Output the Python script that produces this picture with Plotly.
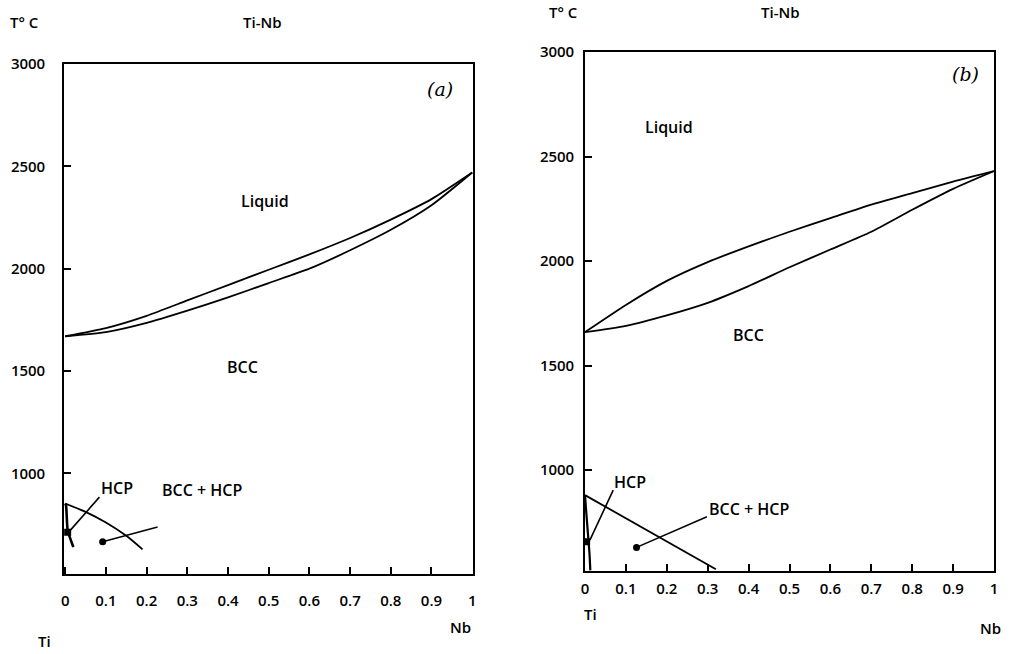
import plotly.graph_objects as go

W, H = 1013, 654

# ---- data: panel (a)
comp = [0, 0.1, 0.2, 0.3, 0.4, 0.5, 0.6, 0.7, 0.8, 0.9, 1.0]
a_liquidus = [1670, 1710, 1770, 1845, 1920, 1995, 2070, 2150, 2240, 2340, 2470]
a_solidus = [1670, 1690, 1735, 1795, 1860, 1930, 2000, 2090, 2190, 2310, 2470]
a_bcc_x = [0, 0.05, 0.1, 0.15, 0.19]
a_bcc_t = [853, 812, 760, 695, 629]
a_hcp_x = [0, 0.002, 0.006, 0.014, 0.02]
a_hcp_t = [853, 844, 722, 673, 640]
a_dot_x = [0.006, 0.092]
a_dot_t = [712, 666]
a_lead_x = [[0.008, 0.084], [0.092, 0.227]]
a_lead_t = [[712, 884], [666, 738]]

# ---- data: panel (b)
b_liquidus = [1660, 1790, 1905, 1995, 2070, 2140, 2205, 2270, 2325, 2380, 2430]
b_solidus = [1660, 1690, 1740, 1800, 1880, 1970, 2055, 2140, 2245, 2345, 2430]
b_bcc_x = [0, 0.32]
b_bcc_t = [880, 525]
b_hcp_x = [0, 0.003, 0.007, 0.011, 0.013]
b_hcp_t = [880, 800, 700, 600, 520]
b_dot_x = [0.004, 0.126]
b_dot_t = [657, 630]
b_lead_x = [[0.012, 0.069], [0.126, 0.298]]
b_lead_t = [[665, 904], [630, 777]]

x_ticks = [0, 0.1, 0.2, 0.3, 0.4, 0.5, 0.6, 0.7, 0.8, 0.9, 1]
x_ticktext = ["0", "0.1", "0.2", "0.3", "0.4", "0.5", "0.6", "0.7", "0.8", "0.9", "1"]
y_ticks = [1000, 1500, 2000, 2500, 3000]

FONT = "Open Sans"
LW = 1.8

fig = go.Figure()

def line(x, y, xa, ya, w=LW):
    fig.add_trace(go.Scatter(x=x, y=y, mode="lines", xaxis=xa, yaxis=ya,
                             line=dict(color="black", width=w, shape="spline", smoothing=0.6),
                             hoverinfo="skip", showlegend=False))

# panel a
line(comp, a_liquidus, "x", "y")
line(comp, a_solidus, "x", "y")
line(a_bcc_x, a_bcc_t, "x", "y")
line(a_hcp_x, a_hcp_t, "x", "y", 2.6)
for lx, lt in zip(a_lead_x, a_lead_t):
    fig.add_trace(go.Scatter(x=lx, y=lt, mode="lines", xaxis="x", yaxis="y",
                             line=dict(color="black", width=1.6), showlegend=False, hoverinfo="skip"))
fig.add_trace(go.Scatter(x=a_dot_x, y=a_dot_t, mode="markers", xaxis="x", yaxis="y",
                         marker=dict(color="black", size=7, symbol=["square", "circle"]),
                         showlegend=False, hoverinfo="skip"))

# panel b
line(comp, b_liquidus, "x2", "y2")
line(comp, b_solidus, "x2", "y2")
line(b_bcc_x, b_bcc_t, "x2", "y2")
line(b_hcp_x, b_hcp_t, "x2", "y2", 2.2)
for lx, lt in zip(b_lead_x, b_lead_t):
    fig.add_trace(go.Scatter(x=lx, y=lt, mode="lines", xaxis="x2", yaxis="y2",
                             line=dict(color="black", width=1.6), showlegend=False, hoverinfo="skip"))
fig.add_trace(go.Scatter(x=b_dot_x, y=b_dot_t, mode="markers", xaxis="x2", yaxis="y2",
                         marker=dict(color="black", size=7, symbol=["square", "circle"]),
                         showlegend=False, hoverinfo="skip"))

tickfont = dict(family=FONT, size=15, color="black", weight=600)
axcommon = dict(showgrid=False, zeroline=False, showline=True, linecolor="black",
                linewidth=1.6, mirror=True, ticks="inside", ticklen=7, tickwidth=1.5,
                tickcolor="black", tickfont=tickfont, automargin=False)

fig.update_layout(
    width=W, height=H, margin=dict(l=0, r=0, t=0, b=0, autoexpand=False),
    paper_bgcolor="white", plot_bgcolor="white",
    xaxis=dict(domain=[64 / W, 473 / W], range=[-0.003, 1.002], tickvals=x_ticks,
               ticktext=x_ticktext, anchor="y", ticklabelstandoff=12, **axcommon),
    yaxis=dict(domain=[(H - 573.7) / H, (H - 64) / H], range=[510, 3000], tickvals=y_ticks,
               anchor="x", ticklabelstandoff=14, **axcommon),
    xaxis2=dict(domain=[585 / W, 994 / W], range=[0, 1], tickvals=x_ticks,
                ticktext=x_ticktext, anchor="y2", ticklabelstandoff=3, **axcommon),
    yaxis2=dict(domain=[(H - 571) / H, (H - 52) / H], range=[517, 3000], tickvals=y_ticks,
                anchor="x2", ticklabelstandoff=6, **axcommon),
)

# in-plot labels
a_labels = [("Liquid", 0.49, 2333), ("BCC", 0.436, 1521), ("HCP", 0.128, 927), ("BCC + HCP", 0.335, 917)]
b_labels = [("Liquid", 0.205, 2641), ("BCC", 0.40, 1646), ("HCP", 0.11, 943), ("BCC + HCP", 0.40, 813)]
for t, x, y in a_labels:
    fig.add_annotation(text=t, x=x, y=y, xref="x", yref="y", showarrow=False,
                       xanchor="center", yanchor="middle",
                       font=dict(family=FONT, size=16, color="black", weight=600))
for t, x, y in b_labels:
    fig.add_annotation(text=t, x=x, y=y, xref="x2", yref="y2", showarrow=False,
                       xanchor="center", yanchor="middle",
                       font=dict(family=FONT, size=16, color="black", weight=600))
fig.add_annotation(text="<i>(a)</i>", x=0.92, y=2878, xref="x", yref="y", showarrow=False,
                   xanchor="center", yanchor="middle",
                   font=dict(family="DejaVu Serif", size=19, color="black"))
fig.add_annotation(text="<i>(b)</i>", x=0.93, y=2895, xref="x2", yref="y2", showarrow=False,
                   xanchor="center", yanchor="middle",
                   font=dict(family="DejaVu Serif", size=19, color="black"))

# header / corner texts
paper_texts = [("T° C", 24, 22), ("Ti-Nb", 262, 22), ("Ti", 44, 641), ("Nb", 460, 627),
               ("T° C", 563, 12), ("Ti-Nb", 780, 12), ("Ti", 590, 614), ("Nb", 990, 628)]
for t, px, py in paper_texts:
    fig.add_annotation(text=t, x=px / W, y=1 - py / H, xref="paper", yref="paper",
                       showarrow=False, xanchor="center", yanchor="middle",
                       font=dict(family=FONT, size=15, color="black", weight=600))

fig.write_html("out.html", config={"displayModeBar": False},
               post_script="document.body.style.margin='0';document.body.style.padding='0';")
